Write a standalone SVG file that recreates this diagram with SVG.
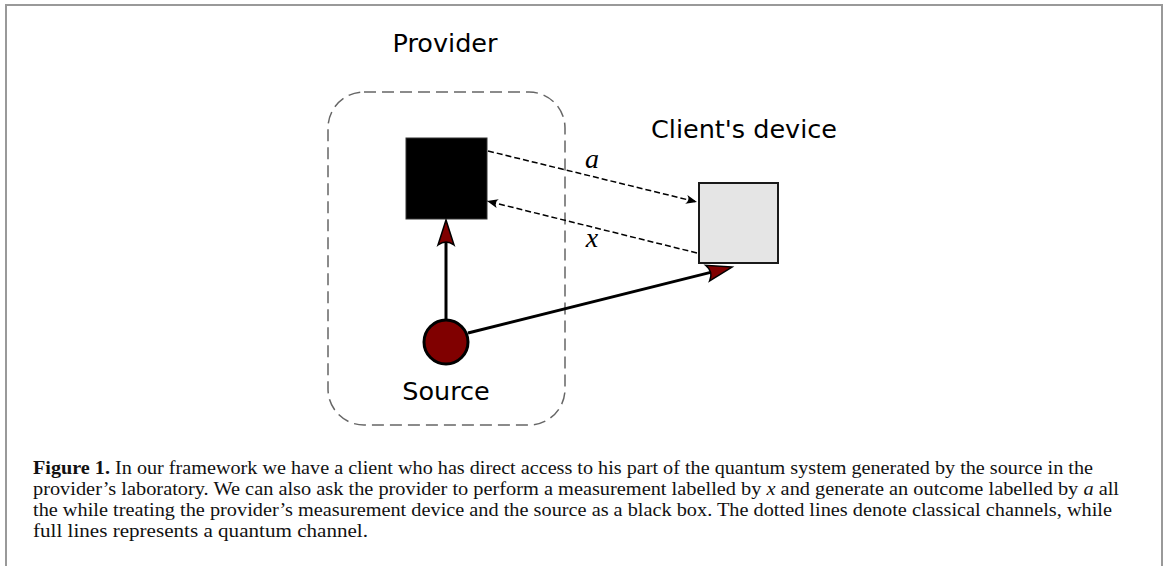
<svg xmlns="http://www.w3.org/2000/svg" width="1168" height="566" viewBox="0 0 1168 566">
<style>
.lbl{font-family:"DejaVu Sans",sans-serif;font-size:25.5px;fill:#000;text-anchor:middle}
.var{font-family:"Liberation Serif",serif;font-style:italic;font-size:28px;fill:#000;text-anchor:middle}
.cap{font-family:"Liberation Serif",serif;font-size:18.5px;fill:#111}
.classical{fill:none;stroke:#000;stroke-width:1.5;stroke-dasharray:6,3}
.quantum{fill:none;stroke:#000;stroke-width:3}
</style>
<defs>
<marker id="qa" markerUnits="userSpaceOnUse" markerWidth="40" markerHeight="30" refX="0" refY="0" orient="auto" overflow="visible" viewBox="-10 -15 40 30">
<path d="M20,0 L-5,-8 Q1,0 -5,8 Z" fill="#800000" stroke="#000" stroke-width="1.5" stroke-linejoin="miter"/>
</marker>
<marker id="ca" markerUnits="userSpaceOnUse" markerWidth="20" markerHeight="20" refX="0" refY="0" orient="auto" overflow="visible" viewBox="-15 -10 20 20">
<path d="M0,0 L-11,-4.5 Q-7,0 -11,4.5 Z" fill="#000"/>
</marker>
</defs>
<path d="M6,566 V5 H1162 V566" fill="none" stroke="#999" stroke-width="2"/>
<g id="provider-boundary">
<rect x="328" y="92" width="237" height="333" rx="36" ry="36" fill="none" stroke="#666" stroke-width="1.5" stroke-dasharray="12,6"/>
<text class="lbl" x="445" y="52">Provider</text>
</g>
<g id="measurement-device">
<rect x="406" y="138" width="81" height="81" fill="#000" stroke="#333" stroke-width="1"/>
</g>
<g id="client-device">
<rect x="699" y="183" width="79" height="80" fill="#e5e5e5" stroke="#1a1a1a" stroke-width="2"/>
<text class="lbl" x="744" y="138">Client's device</text>
</g>
<g id="source">
<circle cx="446" cy="342" r="22" fill="#800000" stroke="#000" stroke-width="3"/>
<text class="lbl" x="446" y="400">Source</text>
</g>
<g id="connectors">
<line class="classical" x1="488" y1="151" x2="697" y2="202" marker-end="url(#ca)"/>
<line class="classical" x1="697" y1="253" x2="487" y2="201" marker-end="url(#ca)"/>
<line class="quantum" x1="446" y1="320" x2="446" y2="240" marker-end="url(#qa)"/>
<line class="quantum" x1="468" y1="333" x2="712.6" y2="271.9" marker-end="url(#qa)"/>
<text class="var" x="592" y="168">a</text>
<text class="var" x="592" y="247">x</text>
</g>
<g id="caption">
<text class="cap" x="33" y="474" textLength="1060" lengthAdjust="spacingAndGlyphs"><tspan font-weight="bold">Figure 1.</tspan> In our framework we have a client who has direct access to his part of the quantum system generated by the source in the</text>
<text class="cap" x="33" y="495" textLength="1086" lengthAdjust="spacingAndGlyphs">provider’s laboratory. We can also ask the provider to perform a measurement labelled by <tspan font-style="italic">x</tspan> and generate an outcome labelled by <tspan font-style="italic">a</tspan> all</text>
<text class="cap" x="33" y="516" textLength="1079" lengthAdjust="spacingAndGlyphs">the while treating the provider’s measurement device and the source as a black box. The dotted lines denote classical channels, while</text>
<text class="cap" x="33" y="537" textLength="335" lengthAdjust="spacingAndGlyphs">full lines represents a quantum channel.</text>
</g>
</svg>
